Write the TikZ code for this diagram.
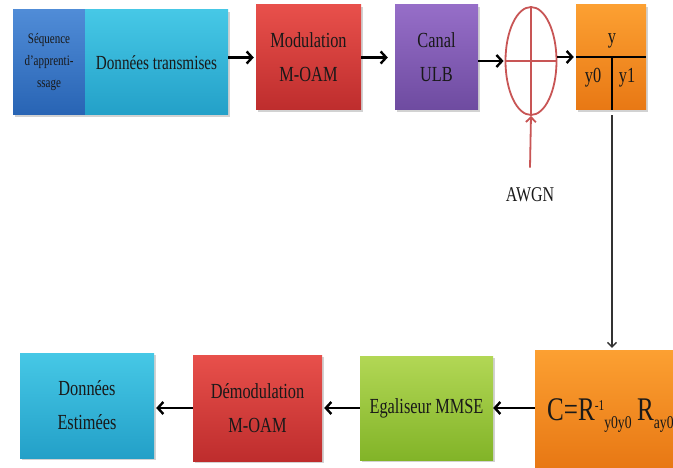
\documentclass[tikz,border=0pt]{standalone}
\usepackage{fontspec}
\setmainfont{Liberation Serif}[FakeStretch=0.76]
\usetikzlibrary{arrows.meta,shapes.geometric,shadows}
\definecolor{txt}{RGB}{25,25,25}
\definecolor{seqT}{RGB}{80,140,215}\definecolor{seqB}{RGB}{40,100,180}
\definecolor{cyaT}{RGB}{70,200,230}\definecolor{cyaB}{RGB}{35,160,200}
\definecolor{redT}{RGB}{232,80,75}\definecolor{redB}{RGB}{190,45,45}
\definecolor{purT}{RGB}{150,110,200}\definecolor{purB}{RGB}{110,75,160}
\definecolor{oraT}{RGB}{252,160,50}\definecolor{oraB}{RGB}{232,120,20}
\definecolor{greT}{RGB}{178,215,85}\definecolor{greB}{RGB}{130,180,40}
\definecolor{noise}{RGB}{200,85,85}
\tikzset{
  box/.style={rectangle, inner sep=0pt, draw=none, text=txt, align=center,
    font=\fontsize{21.5}{34}\selectfont,
    drop shadow={shadow xshift=1.5pt, shadow yshift=-2pt, opacity=0.35}},
  arr/.style={-{Straight Barb[length=5.5pt,width=12pt]}, line width=2.4pt, black},
  thin arr/.style={-{Straight Barb[length=4.5pt,width=9pt]}, line width=1.4pt, black!80},
}
\begin{document}
\begin{tikzpicture}[x=1pt,y=-1pt]
\useasboundingbox (0,0) rectangle (673,468);
\clip (0,0) rectangle (673,468);
\fill[white] (0,0) rectangle (673,468);
% top row
\node[box, top color=seqT, bottom color=seqB, minimum width=72, minimum height=105,
  font=\fontsize{14.5}{22}\selectfont] (seq) at (49,62.5) {Séquence\\d’apprenti-\\ssage};
\node[box, top color=cyaT, bottom color=cyaB, minimum width=143, minimum height=105,
  font=\fontsize{20}{30}\selectfont] (don) at (156.5,62.5) {Données transmises};
\node[box, top color=redT, bottom color=redB, minimum width=105, minimum height=105] (mod) at (308.5,57.5) {Modulation\\M-OAM};
\node[box, top color=purT, bottom color=purB, minimum width=83, minimum height=105] (can) at (436.5,57.5) {Canal\\ULB};
\node[ellipse, draw=noise, line width=1.8pt, fill=white, minimum width=51, minimum height=108, inner sep=0pt] (ell) at (531,61) {};
\draw[noise, line width=1.8pt] (ell.north) -- (ell.south) (ell.west) -- (ell.east);
\node[box, top color=oraT, bottom color=oraB, minimum width=70, minimum height=105] (yb) at (611,57.5) {};
\coordinate (ymid) at (612,57);
\draw[line width=1.8pt, black] (yb.west |- ymid) -- (yb.east |- ymid);
\draw[line width=1.8pt, black] (ymid) -- (ymid |- yb.south);
\node[text=txt, font=\fontsize{21.5}{21.5}\selectfont, inner sep=0pt] (ylab) at (612,41) {y};
\node[text=txt, font=\fontsize{21.5}{21.5}\selectfont, inner sep=0pt] (y0) at (593,78) {y0};
\node[text=txt, font=\fontsize{21.5}{21.5}\selectfont, inner sep=0pt] (y1) at (627,78) {y1};
\node[text=txt, font=\fontsize{21}{21}\selectfont, inner sep=0pt] (awgn) at (530,195) {AWGN};
% bottom row
\node[box, top color=oraT, bottom color=oraB, minimum width=165, minimum height=117] (cb) at (617.5,408.5) {};
\node[text=txt, anchor=base west, inner sep=0pt, font=\fontsize{33}{33}\selectfont] (form) at (547,420)
  {C=R\raisebox{10pt}{\fontsize{15}{15}\selectfont -1}\raisebox{-9pt}{\fontsize{18}{18}\selectfont y0y0}\,R\raisebox{-9pt}{\fontsize{18}{18}\selectfont ay0}};
\node[box, top color=greT, bottom color=greB, minimum width=133, minimum height=104] (egal) at (426.5,408) {Egaliseur MMSE};
\node[box, top color=redT, bottom color=redB, minimum width=129, minimum height=106] (dem) at (257.5,408) {Démodulation\\M-OAM};
\node[box, top color=cyaT, bottom color=cyaB, minimum width=134, minimum height=105] (est) at (87,405.5) {Données\\Estimées};
% connectors
\draw[arr, shorten >=2pt] (don.east |- mod.west) -- (mod.west);
\draw[arr, shorten >=7pt] (mod.east) -- (can.west);
\draw[arr, shorten >=1pt] (can.east |- ell.west) -- (ell.west);
\draw[arr, shorten >=2pt] (ell.east |- ymid) -- (yb.west |- ymid);
\draw[-{Straight Barb[length=5pt,width=10pt]}, noise, line width=1.8pt] (awgn.north) ++(0,-20) -- (ell.south);
\draw[thin arr, shorten <=5pt, shorten >=2pt] (ymid |- yb.south) -- (ymid |- cb.north);
\draw[arr] (cb.west |- egal.east) -- (egal.east);
\draw[arr, shorten >=2pt] (egal.west) -- (dem.east);
\draw[arr, shorten >=2pt] (dem.west) -- (est.east |- dem.west);
\end{tikzpicture}
\end{document}
